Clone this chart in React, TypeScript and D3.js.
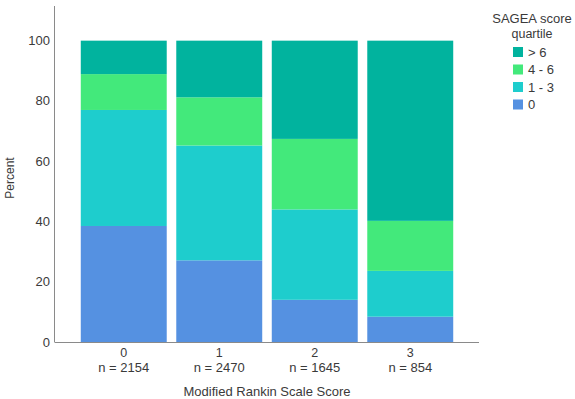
import React, { useEffect, useRef } from 'react';
import * as d3 from 'd3';

// mRS score groups along the x axis
const categories = ['0', '1', '2', '3'];
const sampleSizes = [2154, 2470, 1645, 854];

// percent of each SAGEA score quartile per group (stacked bottom to top)
const quartiles = ['0', '1 - 3', '4 - 6', '> 6'];
const pctZero = [38.5, 27.1, 14.0, 8.4];
const pctOneToThree = [38.5, 38.1, 30.0, 15.2];
const pctFourToSix = [11.9, 16.0, 23.4, 16.6];
const pctAboveSix = [11.1, 18.8, 32.6, 59.8];

const yTicks = [0, 20, 40, 60, 80, 100];
const colors = ['#5591e1', '#1ecdcd', '#43e97b', '#01b39e'];

const App: React.FC = () => {
  const ref = useRef<SVGSVGElement>(null);

  useEffect(() => {
    const width = 575;
    const height = 399;
    const font = 'Arial, "Liberation Sans", sans-serif';
    const textColor = '#3a3a3a';

    const svg = d3.select(ref.current);
    svg.selectAll('*').remove();
    svg.attr('width', width).attr('height', height);

    const rows = categories.map((c, i) => ({
      cat: c,
      '0': pctZero[i],
      '1 - 3': pctOneToThree[i],
      '4 - 6': pctFourToSix[i],
      '> 6': pctAboveSix[i],
    }));

    const x = d3.scaleBand()
      .domain(categories)
      .range([76, 458])
      .paddingInner(0.1)
      .paddingOuter(0.05);

    const y = d3.scaleLinear()
      .domain([0, 111.5])
      .range([342, 6]);

    const color = d3.scaleOrdinal<string>().domain(quartiles).range(colors);

    const stack = d3.stack<any>().keys(quartiles);
    const series = stack(rows);

    svg.append('g')
      .selectAll('g')
      .data(series)
      .join('g')
      .attr('fill', d => color(d.key))
      .selectAll('rect')
      .data(d => d)
      .join('rect')
      .attr('x', d => x(d.data.cat)!)
      .attr('width', x.bandwidth())
      .attr('y', d => y(d[1]))
      .attr('height', d => y(d[0]) - y(d[1]));

    // axes lines
    svg.append('line')
      .attr('x1', 54.5).attr('x2', 54.5)
      .attr('y1', y(111.5)).attr('y2', y(0))
      .attr('stroke', '#8a8a8a');
    svg.append('line')
      .attr('x1', 54.5).attr('x2', 479)
      .attr('y1', y(0) + 0.5).attr('y2', y(0) + 0.5)
      .attr('stroke', '#8a8a8a');

    // y tick labels
    svg.append('g')
      .selectAll('text')
      .data(yTicks)
      .join('text')
      .attr('x', 50)
      .attr('y', d => y(d) + 4.5)
      .attr('text-anchor', 'end')
      .attr('font-family', font)
      .attr('font-size', 13)
      .attr('fill', textColor)
      .text(d => d);

    svg.append('text')
      .attr('transform', `translate(14,178) rotate(-90)`)
      .attr('text-anchor', 'middle')
      .attr('font-family', font)
      .attr('font-size', 12)
      .attr('fill', textColor)
      .text('Percent');

    // x labels
    const xl = svg.append('g')
      .selectAll('g')
      .data(categories)
      .join('g')
      .attr('transform', d => `translate(${x(d)! + x.bandwidth() / 2},0)`);
    xl.append('text')
      .attr('y', 357)
      .attr('text-anchor', 'middle')
      .attr('font-family', font)
      .attr('font-size', 12.5)
      .attr('fill', textColor)
      .text(d => d);
    xl.append('text')
      .attr('y', 371.5)
      .attr('text-anchor', 'middle')
      .attr('font-family', font)
      .attr('font-size', 13)
      .attr('fill', textColor)
      .text((d, i) => `n = ${sampleSizes[i]}`);

    svg.append('text')
      .attr('x', 267)
      .attr('y', 396)
      .attr('text-anchor', 'middle')
      .attr('font-family', font)
      .attr('font-size', 13)
      .attr('fill', textColor)
      .text('Modified Rankin Scale Score');

    // legend
    const legend = svg.append('g');
    legend.append('text')
      .attr('x', 532).attr('y', 23)
      .attr('text-anchor', 'middle')
      .attr('font-family', font)
      .attr('font-size', 13)
      .attr('fill', textColor)
      .text('SAGEA score');
    legend.append('text')
      .attr('x', 532).attr('y', 37.5)
      .attr('text-anchor', 'middle')
      .attr('font-family', font)
      .attr('font-size', 12.5)
      .attr('fill', textColor)
      .text('quartile');

    const items = legend.selectAll('g.item')
      .data(quartiles.slice().reverse())
      .join('g')
      .attr('class', 'item')
      .attr('transform', (d, i) => `translate(513,${47 + i * 17.5})`);
    items.append('rect')
      .attr('width', 10).attr('height', 10)
      .attr('fill', d => color(d));
    items.append('text')
      .attr('x', 15).attr('y', 9.5)
      .attr('font-family', font)
      .attr('font-size', 13)
      .attr('fill', textColor)
      .text(d => d);
  }, []);

  return <svg ref={ref} style={{ position: 'absolute', left: 0, top: 0 }} />;
};

export default App;
